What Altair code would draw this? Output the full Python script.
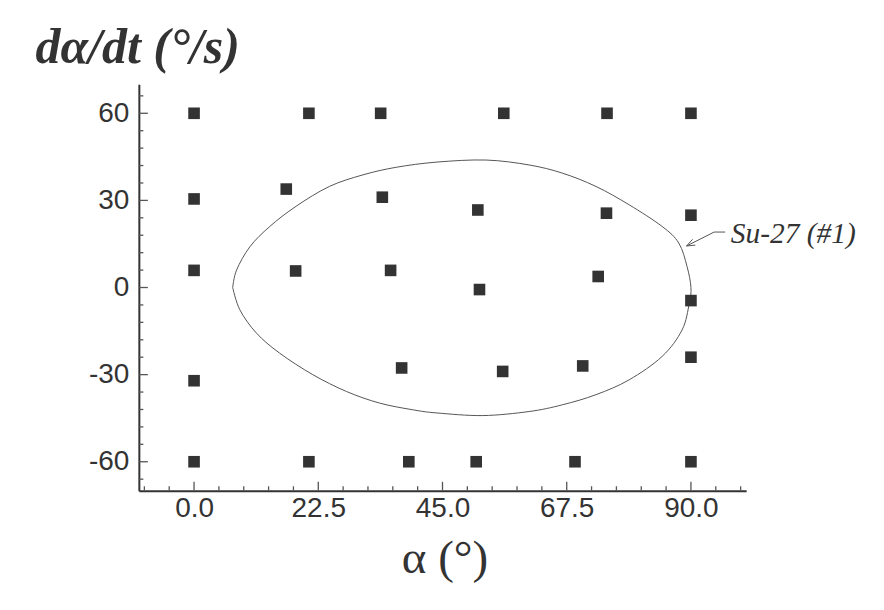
import altair as alt
import pandas as pd

# ---- data ----
pt_alpha = [0, 20.8, 33.8, 56.1, 74.8, 90,
            0, 16.7, 34.1, 51.4, 74.7, 90,
            0, 18.4, 35.6, 51.7, 73.2, 90,
            0, 37.6, 55.9, 70.4, 90,
            0, 20.8, 38.9, 51.1, 69.0, 90]
pt_rate = [60, 60, 60, 60, 60, 60,
           30.5, 33.9, 31.1, 26.7, 25.6, 24.9,
           5.9, 5.7, 5.9, -0.7, 3.8, -4.5,
           -32.1, -27.7, -28.9, -27.0, -24.0,
           -60, -60, -60, -60, -60, -60]

curve_alpha = [7.0, 7.7, 10.1, 13.7, 18.5, 24.5, 30.6, 36.6, 44.0, 52.9,
               60.7, 66.7, 72.8, 78.8, 84.8, 87.8, 89.3, 90.0,
               89.7, 88.4, 84.8, 78.8, 72.8, 66.7, 60.7, 52.3, 44.0,
               39.6, 33.6, 27.6, 21.5, 15.5, 11.3, 8.3, 7.0]
curve_rate = [0, 6.0, 14.0, 21.0, 28.0, 34.8, 38.8, 41.4, 43.2, 43.9,
              42.2, 39.4, 34.8, 28.5, 21.0, 15.3, 7.2, 0,
              -5.4, -14.6, -23.7, -31.8, -36.9, -40.4, -42.7, -44.1, -43.2,
              -42.1, -39.8, -35.8, -30.0, -22.6, -15.7, -7.7, 0]

x_major = [0, 22.5, 45, 67.5, 90]
x_minor = [-9, -4.5, 4.5, 9, 13.5, 18, 27, 31.5, 36, 40.5, 49.5, 54, 58.5,
           63, 72, 76.5, 81, 85.5, 94.5, 99]
y_major = [-60, -30, 0, 30, 60]
y_minor = [-66, -54, -48, -42, -36, -24, -18, -12, -6, 6, 12, 18, 24, 36,
           42, 48, 54, 66]

label_text = ["Su-27 (#1)"]
label_alpha = [97.2]
label_rate = [15.5]
# leader line: text end -> bend -> arrow tip on the curve
arrow_alpha = [96.2, 94.2, 89.2]
arrow_rate = [19.1, 19.1, 14.3]
# arrow head: arm end -> tip -> arm end
head_alpha = [90.8, 89.2, 90.3]
head_rate = [14.6, 14.3, 16.6]

# ---- geometry helpers ----
XMIN, XMAX, YMIN, YMAX = -10, 100, -70, 70
W, H = 608, 407
xs = alt.Scale(domain=[XMIN, XMAX], nice=False, zero=False)
ys = alt.Scale(domain=[YMIN, YMAX], nice=False, zero=False)
dx = (XMAX - XMIN) / W   # data units per pixel
dy = (YMAX - YMIN) / H

TXT = "#333333"

points = pd.DataFrame({"a": pt_alpha, "r": pt_rate})
curve = pd.DataFrame({"a": curve_alpha, "r": curve_rate,
                      "i": list(range(len(curve_alpha)))})

x_axis = alt.Axis(values=x_major, format=".1f", labelFont="Liberation Sans",
                  labelFontSize=28, labelColor=TXT, ticks=False, labelPadding=4,
                  domainColor=TXT, domainWidth=2, grid=False, labelFlush=False,
                  labelOverlap=False, title="α (°)", titleFont="Liberation Serif",
                  titleFontSize=47, titleFontWeight="normal", titleColor=TXT,
                  titleX=306, titleY=82, titleAlign="center",
                  titleBaseline="alphabetic")
y_axis = alt.Axis(values=y_major, labelExpr="'' + datum.value",
                  labelFont="Liberation Sans", labelFontSize=28, labelColor=TXT,
                  ticks=False, labelPadding=10, domainColor=TXT, domainWidth=2,
                  grid=False, labelFlush=False, labelOverlap=False,
                  title="dα/dt (°/s)", titleFont="Liberation Serif",
                  titleFontSize=50, titleFontWeight="bold", titleFontStyle="italic",
                  titleColor=TXT, titleAngle=0, titleX=-104, titleY=-22,
                  titleAlign="left", titleBaseline="alphabetic")


def X(field):
    return alt.X(field, type="quantitative", scale=xs, axis=x_axis)


def Y(field):
    return alt.Y(field, type="quantitative", scale=ys, axis=y_axis)


line = alt.Chart(curve).mark_line(color="#555555", strokeWidth=1,
                                  interpolate="cardinal").encode(
    x=X("a"), y=Y("r"), order="i:Q",
)

squares = alt.Chart(points).mark_square(size=135, color=TXT, opacity=1).encode(
    x=X("a"), y=Y("r"),
)


def xticks(vals, length):
    df = pd.DataFrame({"a": vals, "y0": YMIN, "y1": YMIN + length * dy})
    return alt.Chart(df).mark_rule(color="#555555", strokeWidth=1.3).encode(
        x=X("a"), y=Y("y0"), y2="y1:Q",
    )


def yticks(vals, length):
    df = pd.DataFrame({"r": vals, "x0": XMIN, "x1": XMIN + length * dx})
    return alt.Chart(df).mark_rule(color="#555555", strokeWidth=1.3).encode(
        y=Y("r"), x=X("x0"), x2="x1:Q",
    )


arrow_df = pd.DataFrame({"a": arrow_alpha, "r": arrow_rate, "i": [0, 1, 2]})
arrow = alt.Chart(arrow_df).mark_line(color="#555555", strokeWidth=1).encode(
    x=X("a"), y=Y("r"), order="i:Q",
)
head_df = pd.DataFrame({"a": head_alpha, "r": head_rate, "i": [0, 1, 2]})
head = alt.Chart(head_df).mark_line(color="#555555", strokeWidth=1).encode(
    x=X("a"), y=Y("r"), order="i:Q",
)

label_df = pd.DataFrame({"a": label_alpha, "r": label_rate, "t": label_text})
label = alt.Chart(label_df).mark_text(font="Liberation Serif", fontStyle="italic",
                                      fontSize=29.5, align="left",
                                      baseline="alphabetic", color=TXT).encode(
    x=X("a"), y=Y("r"), text="t:N",
)

chart = alt.layer(
    line, squares,
    xticks(x_major, 9), xticks(x_minor, 4.5),
    yticks(y_major, 9), yticks(y_minor, 4.5),
    arrow, head, label,
).properties(
    width=W, height=H,
    padding={"left": 131, "top": 76, "right": 130, "bottom": 100},
    autosize=alt.AutoSizeParams(type="none"),
    background="white",
).configure_view(stroke=None)

chart.save("out.html", embed_options={"renderer": "svg", "actions": False})
